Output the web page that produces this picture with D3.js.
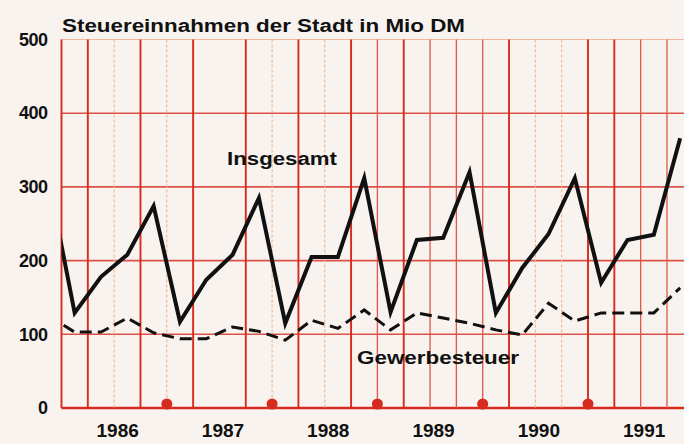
<!DOCTYPE html>
<html>
<head>
<meta charset="utf-8">
<script src="https://cdn.jsdelivr.net/npm/d3@7"></script>
<style>
  body { margin: 0; background: #f8f3ee; }
  svg { display: block; }
  text { font-family: "Liberation Sans", Arial, sans-serif; font-weight: bold; fill: #111; }
</style>
</head>
<body>
<div id="chart"></div>
<script>
// Quarterly tax income of the city, Mio DM
const periods = ["1985 Q4",
  "1986 Q1", "1986 Q2", "1986 Q3", "1986 Q4",
  "1987 Q1", "1987 Q2", "1987 Q3", "1987 Q4",
  "1988 Q1", "1988 Q2", "1988 Q3", "1988 Q4",
  "1989 Q1", "1989 Q2", "1989 Q3", "1989 Q4",
  "1990 Q1", "1990 Q2", "1990 Q3", "1990 Q4",
  "1991 Q1", "1991 Q2", "1991 Q3", "1991 Q4"];
const insgesamt = [312,
  129, 178, 208, 274,
  117, 174, 208, 285,
  115, 205, 205, 312,
  130, 228, 231, 320,
  129, 190, 236, 312,
  170, 228, 235, 366];
const gewerbesteuer = [125,
  103, 103, 122, 102,
  94, 94, 110, 104,
  92, 119, 108, 133,
  106, 129, 122, 115,
  106, 99, 142, 118,
  129, 129, 129, 163];

const years = [1986, 1987, 1988, 1989, 1990, 1991];
const yTicks = [0, 100, 200, 300, 400, 500];
const markerYears = [1987, 1988, 1989, 1990, 1991];

// quarter boundaries (in quarters since 1986) of the red graph paper
const strongGrid = [0, 1, 3, 5, 7, 9, 11, 13, 17, 20, 21];
const mediumGrid = [12, 14, 15, 16, 22, 23];
const faintGrid = [2, 4, 8, 10, 18, 19];

const width = 684, height = 444;
const red = "#d62b1f";

// decimal position of a quarter midpoint
const toTime = p => {
  const [yr, q] = p.split(" Q");
  return +yr + (+q - 0.5) / 4;
};

const x = d3.scaleLinear().domain([1986, 1992]).range([61.5, 693.3]);
const y = d3.scaleLinear().domain([0, 500]).range([408, 39.5]);

const svg = d3.select("#chart").append("svg")
  .attr("width", width)
  .attr("height", height);

svg.append("rect")
  .attr("width", width).attr("height", height)
  .attr("fill", "#f8f3ee");

svg.append("clipPath").attr("id", "plot")
  .append("rect")
  .attr("x", x(1986)).attr("y", 0)
  .attr("width", width - x(1986)).attr("height", height);

const grid = svg.append("g");

// horizontal lines
grid.selectAll("line.h")
  .data(yTicks)
  .enter().append("line")
  .attr("class", "h")
  .attr("x1", x(1986)).attr("x2", width)
  .attr("y1", d => y(d)).attr("y2", d => y(d))
  .attr("stroke", d => d === 500 ? "#f1b89a" : red)
  .attr("stroke-width", d => d === 0 ? 2.6 : d === 500 ? 1.2 : 1.6)
  .attr("opacity", d => d === 0 || d === 500 ? 1 : 0.8);

// vertical lines
function vLines(data, color, w, dash) {
  grid.append("g").selectAll("line")
    .data(data)
    .enter().append("line")
    .attr("x1", d => x(1986 + d / 4)).attr("x2", d => x(1986 + d / 4))
    .attr("y1", y(500)).attr("y2", y(0))
    .attr("stroke", color)
    .attr("stroke-width", w)
    .attr("stroke-dasharray", dash);
}
vLines(faintGrid, "#f2b48e", 1.1, "3,2");
vLines(mediumGrid, "#e0574a", 1.3, null);
vLines(strongGrid, red, 1.9, null);

// red markers at the turn of each year
svg.append("g").selectAll("circle")
  .data(markerYears)
  .enter().append("circle")
  .attr("cx", d => x(d))
  .attr("cy", y(0) - 4)
  .attr("r", 5.5)
  .attr("fill", red);

// series lines
const line = (vals) => d3.line()
  .x((d, i) => x(toTime(periods[i])))
  .y(d => y(d))(vals);

const lines = svg.append("g").attr("clip-path", "url(#plot)");

lines.append("path")
  .attr("d", line(gewerbesteuer))
  .attr("fill", "none")
  .attr("stroke", "#111")
  .attr("stroke-width", 3)
  .attr("stroke-dasharray", "12,6");

lines.append("path")
  .attr("d", line(insgesamt))
  .attr("fill", "none")
  .attr("stroke", "#111")
  .attr("stroke-width", 4)
  .attr("stroke-linejoin", "miter");

// axes
const yAxis = svg.append("g")
  .attr("transform", `translate(${x(1986)},0)`)
  .call(d3.axisLeft(y).tickValues(yTicks).tickSize(0).tickPadding(14).tickFormat(d3.format("d")));
yAxis.select(".domain").remove();
yAxis.selectAll("text")
  .style("font-size", "18px")
  .attr("fill", "#111")
  .attr("letter-spacing", "-0.5");

const xAxis = svg.append("g")
  .attr("transform", `translate(0,${y(0)})`)
  .call(d3.axisBottom(x).tickValues(years.map(d => d + 0.5)).tickSize(0).tickPadding(16)
    .tickFormat(d => String(Math.floor(d))));
xAxis.select(".domain").remove();
xAxis.selectAll("text")
  .style("font-size", "19px")
  .attr("fill", "#111")
  .attr("dx", 3);

// title and series labels
svg.append("text")
  .attr("x", 62).attr("y", 32)
  .attr("textLength", 403).attr("lengthAdjust", "spacingAndGlyphs")
  .style("font-size", "18px")
  .text("Steuereinnahmen der Stadt in Mio DM");

svg.append("text")
  .attr("x", 227).attr("y", 165)
  .attr("textLength", 110).attr("lengthAdjust", "spacingAndGlyphs")
  .style("font-size", "18px")
  .text("Insgesamt");

svg.append("text")
  .attr("x", 357).attr("y", 364)
  .attr("textLength", 162).attr("lengthAdjust", "spacingAndGlyphs")
  .style("font-size", "18px")
  .text("Gewerbesteuer");
</script>
</body>
</html>
